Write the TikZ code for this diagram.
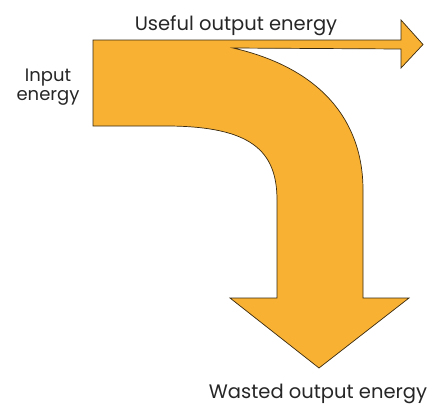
\documentclass[tikz,border=0pt]{standalone}
\usepackage{fontspec}
\setmainfont{Poppins}
\definecolor{flow}{HTML}{F8B133}
\definecolor{edge}{HTML}{3A2A10}
\begin{document}
\begin{tikzpicture}[x=1pt,y=-1pt,
  lbl/.style={font=\fontsize{19.5}{20}\selectfont, text=black!85, inner sep=0pt, align=center, anchor=base}]
\useasboundingbox (0,0) rectangle (444,410);
\draw[fill=flow, draw=edge, line width=0.7pt, line join=miter]
  (93,40) -- (401,40) -- (401,20) -- (423,44.5) -- (401,68) -- (401,49) -- (233,48)
  .. controls (320,68) and (363,120) .. (363,190) -- (363,298) -- (409,298) -- (319,368)
  -- (230,298) -- (277,298) -- (277,200)
  .. controls (277,150) and (250,127) .. (170,126) -- (93,126) -- cycle;
\node[lbl] (useful) at (236,30) {Useful output energy};
\node[lbl] (wasted) at (318,398) {Wasted output energy};
\node[lbl, font=\fontsize{18}{18.5}\selectfont, anchor=center] (input) at (48,87) {Input\\energy};
\end{tikzpicture}
\end{document}
